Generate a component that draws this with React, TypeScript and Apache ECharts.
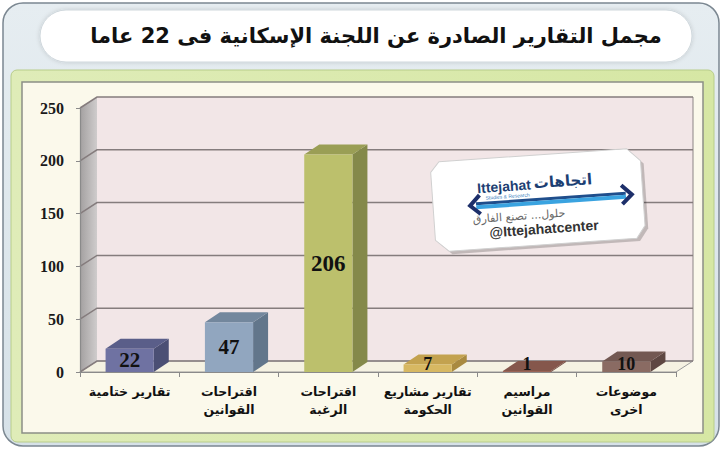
import React, { useEffect, useRef } from "react";
import * as echarts from "echarts";

const titleText = "مجمل التقارير الصادرة عن اللجنة الإسكانية فى 22 عاما";
const categories = [
  "تقارير ختامية",
  "اقتراحات\nالقوانين",
  "اقتراحات\nالرغبة",
  "تقارير مشاريع\nالحكومة",
  "مراسيم\nالقوانين",
  "موضوعات\nاخرى",
];
const values = [22, 47, 206, 7, 1, 10];
const yTicks = [0, 50, 100, 150, 200, 250];
const frontColors = ["#6f72a2", "#91a6bf", "#bcc06c", "#d7b862", "#9b6557", "#8a6b63"];
const topColors = ["#5a5e89", "#73879d", "#9a9e55", "#c3a24f", "#85574c", "#735852"];
const sideColors = ["#4b4f74", "#62768b", "#84894a", "#a98a40", "#6f4940", "#5e4742"];

const WDX = 17;
const WDY = -11;
const BDX = 15;
const BDY = -10;

export default function App() {
  const ref = useRef<HTMLDivElement>(null);
  useEffect(() => {
    if (!ref.current) return;
    const chart = echarts.init(ref.current, null, { renderer: "svg" });
    const serif = "'Liberation Serif', 'Times New Roman', serif";
    const sans = "'DejaVu Sans', 'Liberation Sans', sans-serif";
    const latin = "'Liberation Sans', Arial, sans-serif";

    const cardPts = [
      [-96, -46], [92, -46], [105, -33], [105, 32], [96, 44], [-92, 44], [-105, 32], [-105, -36],
    ];
    const txt = (text: string, x: number, y: number, size: number, fill: string, family: string, align: string, bold = false, extra: any = {}) => ({
      type: "text",
      z: 51,
      x,
      y,
      style: {
        text,
        fontSize: size,
        fontWeight: bold ? "bold" : "normal",
        fontFamily: family,
        fill,
        align,
        verticalAlign: "middle",
        textAlign: align,
        textVerticalAlign: "middle",
        ...extra,
      },
    });

    const option: any = {
      animation: false,
      grid: { left: 80, right: 47, top: 108, bottom: 78 },
      xAxis: {
        type: "category",
        data: categories,
        z: 10,
        axisLine: { show: true, lineStyle: { color: "#8a8a8a", width: 1.2 } },
        axisTick: { show: true, length: 5, lineStyle: { color: "#8a8a8a" } },
        axisLabel: {
          margin: 10,
          fontSize: 12.5,
          fontWeight: "bold",
          fontFamily: sans,
          color: "#111",
          lineHeight: 18,
          interval: 0,
        },
        splitLine: { show: false },
      },
      yAxis: {
        type: "value",
        min: 0,
        max: 250,
        interval: 50,
        z: 10,
        axisLine: { show: true, lineStyle: { color: "#8a8a8a", width: 1.2 } },
        axisTick: { show: true, length: 4, lineStyle: { color: "#8a8a8a" } },
        axisLabel: {
          margin: 16,
          fontSize: 16,
          fontWeight: "bold",
          fontFamily: serif,
          color: "#1a1a1a",
        },
        splitLine: { show: false },
      },
      graphic: {
        elements: [
          {
            type: "rect",
            z: -10,
            shape: { x: 3, y: 3, width: 716, height: 443, r: 20 },
            style: {
              fill: new echarts.graphic.LinearGradient(0, 0, 0, 1, [
                { offset: 0, color: "#e6edf1" },
                { offset: 1, color: "#d6e1e8" },
              ]),
              stroke: "#7b8791",
              lineWidth: 1.5,
            },
          },
          {
            type: "rect",
            z: -9,
            shape: { x: 40, y: 10, width: 652, height: 52, r: 26 },
            style: { fill: "#ffffff", stroke: "#cfd7dc", lineWidth: 1, shadowBlur: 4, shadowColor: "rgba(0,0,0,0.15)" },
          },
          {
            type: "text",
            z: -8,
            x: 376,
            y: 36,
            style: {
              text: titleText,
              fontSize: 21,
              fontWeight: "bold",
              fontFamily: sans,
              fill: "#111",
              align: "center",
              verticalAlign: "middle",
              textAlign: "center",
              textVerticalAlign: "middle",
            },
          },
          {
            type: "rect",
            z: -9,
            shape: { x: 11, y: 70, width: 703, height: 372, r: 6 },
            style: {
              fill: new echarts.graphic.LinearGradient(0, 0, 1, 0, [
                { offset: 0, color: "#dfecb8" },
                { offset: 1, color: "#d6e7a4" },
              ]),
              stroke: "#b8cd8a",
              lineWidth: 1,
            },
          },
          {
            type: "rect",
            z: -8,
            shape: { x: 22, y: 82, width: 681, height: 351 },
            style: { fill: "#fbf9eb", stroke: "#8c8f86", lineWidth: 1.5 },
          },
          {
            type: "group",
            x: 538,
            y: 201,
            rotation: 0.07,
            z: 50,
            children: [
              {
                type: "polygon",
                z: 50,
                x: 3,
                y: 3,
                shape: { points: cardPts },
                style: { fill: "rgba(0,0,0,0.2)" },
              },
              {
                type: "polygon",
                z: 50,
                shape: { points: cardPts },
                style: { fill: "#ffffff", stroke: "#d0d0d0", lineWidth: 1 },
              },
              txt("Ittejahat", -6, -17, 14, "#1d3f73", latin, "right", true),
              txt("اتجاهات", -3, -18, 15, "#1d3f73", sans, "left", true),
              txt("Studies & Research", -30, -7, 5, "#3a7fc0", latin, "center"),
              {
                type: "rect",
                z: 51,
                shape: { x: -62, y: -3, width: 150, height: 3 },
                style: { fill: "#1f4e8c" },
              },
              {
                type: "rect",
                z: 51,
                shape: { x: -62, y: 0, width: 150, height: 4 },
                style: { fill: "#3aa3e0" },
              },
              {
                type: "polyline",
                z: 52,
                shape: { points: [[-58, -10], [-68, 0], [-58, 9]] },
                style: { stroke: "#1d2f6a", lineWidth: 4, fill: "none" },
              },
              {
                type: "polyline",
                z: 52,
                shape: { points: [[84, -10], [94, 0], [84, 9]] },
                style: { stroke: "#1d2f6a", lineWidth: 4, fill: "none" },
              },
              txt("حلول... تصنع الفارق", -20, 14, 11, "#666", sans, "center"),
              txt("@Ittejahatcenter", 4, 28, 14, "#333", latin, "center", true),
            ],
          },
        ],
      },
      series: [
        {
          type: "custom",
          name: "walls",
          silent: true,
          z: 1,
          data: [[0, 0]],
          renderItem: (params: any, api: any) => {
            const cs = params.coordSys;
            const x0 = cs.x;
            const x1 = cs.x + cs.width;
            const yTop = cs.y;
            const yBot = cs.y + cs.height;
            const children: any[] = [];
            children.push({
              type: "rect",
              shape: { x: x0 + WDX, y: yTop + WDY, width: cs.width, height: cs.height },
              style: { fill: "#f2e6e7" },
            });
            children.push({
              type: "line",
              shape: { x1: x1 + WDX, y1: yTop + WDY, x2: x1 + WDX, y2: yBot + WDY },
              style: { stroke: "#8c8585", lineWidth: 1 },
            });
            children.push({
              type: "polygon",
              shape: { points: [[x0, yBot], [x0, yTop], [x0 + WDX, yTop + WDY], [x0 + WDX, yBot + WDY]] },
              style: {
                fill: new echarts.graphic.LinearGradient(0, 0, 1, 0, [
                  { offset: 0, color: "#a3a0a0" },
                  { offset: 1, color: "#cfcccc" },
                ]),
              },
            });
            children.push({
              type: "polygon",
              shape: { points: [[x0, yBot], [x1, yBot], [x1 + WDX, yBot + WDY], [x0 + WDX, yBot + WDY]] },
              style: { fill: "#f5f2e2", stroke: "#9a9a9a", lineWidth: 1 },
            });
            yTicks.forEach((t) => {
              const y = api.coord([0, t])[1];
              children.push({
                type: "polyline",
                shape: { points: [[x0, y], [x0 + WDX, y + WDY], [x1 + WDX, y + WDY]] },
                style: { stroke: "#857c7d", lineWidth: 1.5, fill: "none" },
              });
            });
            return { type: "group", children };
          },
        },
        {
          type: "custom",
          name: "bars",
          z: 3,
          data: values.map((v, i) => [i, v]),
          encode: { x: 0, y: 1 },
          renderItem: (params: any, api: any) => {
            const i = api.value(0);
            const v = api.value(1);
            const base = api.coord([i, 0]);
            const top = api.coord([i, v]);
            const band = api.size([1, 0])[0];
            const w = band * 0.485;
            const xl = base[0] - w / 2;
            const xr = base[0] + w / 2;
            const yb = base[1];
            const yt = top[1];
            const idx = params.dataIndex;
            const center = (yt + yb) / 2;
            const ly = Math.min(center, yb - 8);
            const fs = v > 100 ? 23 : v > 15 ? 21 : 18;
            return {
              type: "group",
              children: [
                {
                  type: "polygon",
                  shape: { points: [[xr, yt], [xr + BDX, yt + BDY], [xr + BDX, yb + BDY], [xr, yb]] },
                  style: { fill: sideColors[idx] },
                },
                {
                  type: "polygon",
                  shape: { points: [[xl, yt], [xr, yt], [xr + BDX, yt + BDY], [xl + BDX, yt + BDY]] },
                  style: { fill: topColors[idx] },
                },
                {
                  type: "rect",
                  shape: { x: xl, y: yt, width: w, height: yb - yt },
                  style: { fill: frontColors[idx] },
                },
                {
                  type: "text",
                  x: base[0],
                  y: ly,
                  style: {
                    text: String(v),
                    fontSize: fs,
                    fontWeight: "bold",
                    fontFamily: serif,
                    fill: "#111",
                    align: "center",
                    verticalAlign: "middle",
                    textAlign: "center",
                    textVerticalAlign: "middle",
                  },
                },
              ],
            };
          },
        },
      ],
    };
    chart.setOption(option);
    return () => chart.dispose();
  }, []);
  return (
    <div
      ref={ref}
      style={{ position: "absolute", left: 0, top: 0, width: 723, height: 450 }}
    />
  );
}
